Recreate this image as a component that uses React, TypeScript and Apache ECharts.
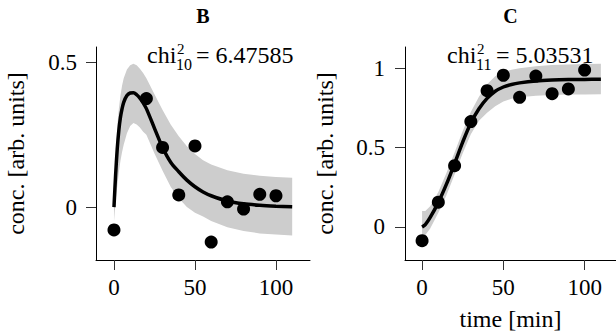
import React, { useEffect, useRef } from "react";
import * as echarts from "echarts";

const FONT = "Liberation Serif";

// Panel B: observations
const B_T = [0, 20, 30, 40, 50, 60, 70, 80, 90, 100];
const B_Y = [-0.079, 0.375, 0.206, 0.042, 0.211, -0.121, 0.018, -0.007, 0.044, 0.039];
// Panel B: fitted curve and band
const B_FIT_T = [0, 1, 2, 3, 4, 5, 6, 8, 10, 12, 14, 16, 18, 20, 25, 30, 35, 40, 45, 50, 55, 60, 70, 80, 90, 100, 110];
const B_FIT = [0, 0.11, 0.2, 0.265, 0.31, 0.34, 0.362, 0.385, 0.394, 0.395, 0.388, 0.376, 0.36, 0.34, 0.272, 0.206, 0.155, 0.122, 0.093, 0.07, 0.052, 0.039, 0.021, 0.011, 0.006, 0.003, 0.001];
const B_UP = [0, 0.17, 0.28, 0.34, 0.385, 0.42, 0.445, 0.475, 0.49, 0.495, 0.49, 0.478, 0.463, 0.445, 0.39, 0.335, 0.285, 0.245, 0.21, 0.183, 0.162, 0.147, 0.127, 0.115, 0.108, 0.104, 0.101];
const B_LO = [-0.05, 0.02, 0.07, 0.12, 0.16, 0.19, 0.215, 0.255, 0.28, 0.29, 0.285, 0.275, 0.26, 0.25, 0.185, 0.125, 0.07, 0.03, 0.0, -0.02, -0.033, -0.048, -0.07, -0.083, -0.091, -0.095, -0.098];

// Panel C: observations
const C_T = [0, 10, 20, 30, 40, 50, 60, 70, 80, 90, 100];
const C_Y = [-0.086, 0.156, 0.386, 0.664, 0.859, 0.956, 0.817, 0.951, 0.84, 0.87, 0.989];
// Panel C: fitted curve and band
const C_FIT_T = [0, 2, 5, 10, 15, 20, 25, 30, 35, 40, 45, 50, 55, 60, 70, 80, 90, 100, 110];
const C_FIT = [0, 0.015, 0.06, 0.155, 0.27, 0.4, 0.535, 0.655, 0.745, 0.81, 0.855, 0.882, 0.898, 0.908, 0.92, 0.926, 0.929, 0.93, 0.931];
const C_UP = [0.1, 0.1, 0.13, 0.22, 0.34, 0.47, 0.605, 0.725, 0.82, 0.9, 0.95, 0.975, 0.99, 1.0, 1.012, 1.02, 1.024, 1.027, 1.029];
const C_LO = [-0.06, -0.05, -0.01, 0.09, 0.2, 0.33, 0.465, 0.585, 0.67, 0.72, 0.76, 0.79, 0.808, 0.818, 0.827, 0.831, 0.834, 0.835, 0.836];

const X_TICKS = [0, 50, 100];
const B_Y_TICKS = [0, 0.5];
const C_Y_TICKS = [0, 0.5, 1];

const TITLES = ["B", "C"];
const CHI_SUB = ["10", "11"];
const CHI_VAL = ["6.47585", "5.03531"];
const Y_NAME = "conc. [arb. units]";
const X_NAME = "time [min]";

function makeX(gi: number, min: number, max: number, name: string) {
  return {
    type: "value",
    gridIndex: gi,
    min,
    max,
    name,
    nameLocation: "middle",
    nameGap: 47,
    nameTextStyle: { fontFamily: FONT, fontSize: 24, color: "#000" },
    axisLine: { show: true, onZero: false, lineStyle: { color: "#000", width: 1 } },
    axisTick: { show: true, length: 10, customValues: X_TICKS, lineStyle: { color: "#333", width: 1 } },
    axisLabel: { customValues: X_TICKS, margin: 16, fontFamily: FONT, fontSize: 23, color: "#000" },
    splitLine: { show: false },
  };
}

function makeY(gi: number, min: number, max: number, ticks: number[], margin: number) {
  return {
    type: "value",
    gridIndex: gi,
    min,
    max,
    name: Y_NAME,
    nameLocation: "middle",
    nameGap: 68,
    nameTextStyle: { fontFamily: FONT, fontSize: 24, color: "#000" },
    axisLine: { show: true, onZero: false, lineStyle: { color: "#000", width: 1 } },
    axisTick: { show: true, length: 10, customValues: ticks, lineStyle: { color: "#333", width: 1 } },
    axisLabel: { customValues: ticks, margin, fontFamily: FONT, fontSize: 23, color: "#000" },
    splitLine: { show: false },
  };
}

function panelSeries(
  idx: number,
  t: number[],
  y: number[],
  ft: number[],
  fit: number[],
  up: number[],
  lo: number[]
) {
  return [
    {
      type: "custom",
      xAxisIndex: idx,
      yAxisIndex: idx,
      data: [[ft[0], fit[0]]],
      silent: true,
      z: 1,
      renderItem: (_params: any, api: any) => {
        const pts: number[][] = [];
        for (let i = 0; i < ft.length; i++) pts.push(api.coord([ft[i], up[i]]));
        for (let i = ft.length - 1; i >= 0; i--) pts.push(api.coord([ft[i], lo[i]]));
        return {
          type: "polygon",
          shape: { points: pts },
          style: { fill: "#cdcdcd", stroke: "none" },
        };
      },
    },
    {
      type: "line",
      xAxisIndex: idx,
      yAxisIndex: idx,
      data: ft.map((v, i) => [v, fit[i]]),
      symbol: "none",
      smooth: 0.3,
      lineStyle: { color: "#000", width: 3.5 },
      silent: true,
      z: 2,
    },
    {
      type: "scatter",
      xAxisIndex: idx,
      yAxisIndex: idx,
      data: t.map((v, i) => [v, y[i]]),
      symbol: "circle",
      symbolSize: 13,
      itemStyle: { color: "#000", opacity: 1 },
      z: 3,
    },
  ];
}

function txt(text: string, x: number, y: number, size: number, align: string, bold = false) {
  return {
    type: "text",
    x,
    y,
    z: 10,
    style: {
      text,
      font: `${bold ? "bold " : ""}${size}px ${FONT}`,
      fill: "#000",
      align,
      verticalAlign: "middle",
      textAlign: align,
      textVerticalAlign: "middle",
    },
  };
}

function chiLabel(x0: number, sub: string, val: string) {
  return [
    txt("chi", x0, 55, 24, "left"),
    txt("2", x0 + 30, 48.5, 15, "left"),
    txt(sub, x0 + 29, 64.5, 16, "left"),
    txt("= " + val, x0 + 49, 55, 24, "left"),
  ];
}

export default function App() {
  const ref = useRef<HTMLDivElement>(null);
  useEffect(() => {
    document.body.style.margin = "0";
    if (!ref.current) return;
    const chart = echarts.init(ref.current, null, { renderer: "svg" });
    const option = {
      animation: false,
      textStyle: { fontFamily: FONT },
      grid: [
        { left: 96, top: 47, width: 214, height: 213 },
        { left: 405, top: 47, width: 211, height: 213 },
      ],
      xAxis: [makeX(0, -11.1, 121, ""), makeX(1, -10.5, 119.3, X_NAME)],
      yAxis: [makeY(0, -0.183, 0.553, B_Y_TICKS, 19), makeY(1, -0.208, 1.134, C_Y_TICKS, 20)],
      series: [
        ...panelSeries(0, B_T, B_Y, B_FIT_T, B_FIT, B_UP, B_LO),
        ...panelSeries(1, C_T, C_Y, C_FIT_T, C_FIT, C_UP, C_LO),
      ],
      graphic: [
        txt(TITLES[0], 203, 16, 20, "center", true),
        txt(TITLES[1], 510.5, 16, 20, "center", true),
        ...chiLabel(147, CHI_SUB[0], CHI_VAL[0]),
        ...chiLabel(447, CHI_SUB[1], CHI_VAL[1]),
      ],
    };
    chart.setOption(option as any);
    return () => chart.dispose();
  }, []);
  return <div ref={ref} style={{ width: 616, height: 336 }} />;
}
